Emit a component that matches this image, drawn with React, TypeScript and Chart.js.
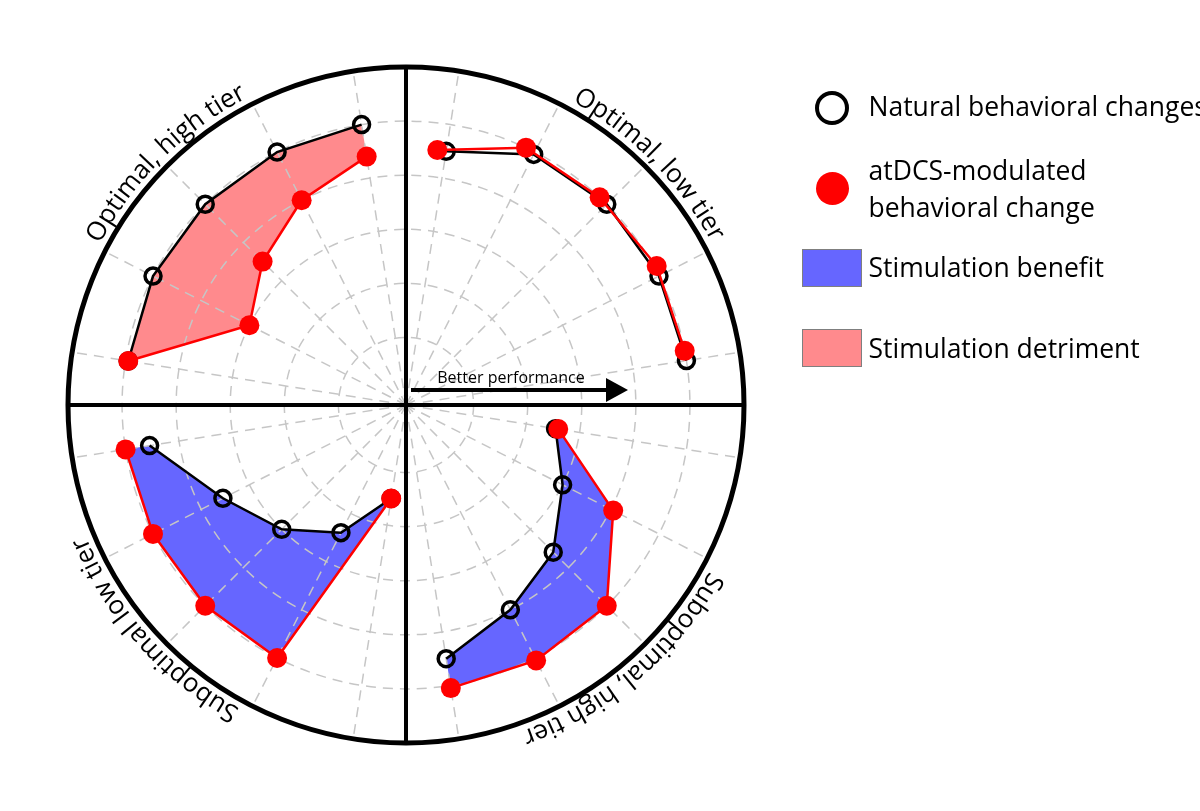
import React, { useEffect, useRef } from 'react';
import { Chart, registerables } from 'chart.js';

Chart.register(...registerables);

// Quadrants, clockwise from the top-right
const quadrantLabels = ['Optimal, low tier', 'Suboptimal, high tier', 'Suboptimal low tier', 'Optimal, high tier'];
const spokesPerQuadrant = 5;
const gridValues = [1, 2, 3, 4, 5];

// Values per quadrant, ordered clockwise
const naturalOptimalLow = [4.5, 4.95, 5, 5, 5];
const atdcsOptimalLow = [4.5, 5, 5, 5.05, 5];
const naturalSuboptimalHigh = [2.55, 3, 3.6, 4, 4.5];
const atdcsSuboptimalHigh = [2.6, 4.05, 5, 5.05, 5.05];
const naturalSuboptimalLow = [1.5, 2.4, 3, 3.55, 4.55];
const atdcsSuboptimalLow = [1.5, 5, 5, 5, 5];
const naturalOptimalHigh = [4.95, 5, 5, 5, 5];
const atdcsOptimalHigh = [4.95, 3, 3.5, 4, 4.4];

const arrowLabel = 'Better performance';
const legendNatural = 'Natural behavioral changes';
const legendAtdcs = ['atDCS-modulated', 'behavioral change'];
const legendBenefit = 'Stimulation benefit';
const legendDetriment = 'Stimulation detriment';

const naturalByQuadrant = [naturalOptimalLow, naturalSuboptimalHigh, naturalSuboptimalLow, naturalOptimalHigh];
const atdcsByQuadrant = [atdcsOptimalLow, atdcsSuboptimalHigh, atdcsSuboptimalLow, atdcsOptimalHigh];

const spokeLabels = quadrantLabels.flatMap((q) =>
  Array.from({ length: spokesPerQuadrant }, (_, i) => `${q} ${i + 1}`)
);

const FONT = '"Open Sans", sans-serif';
const GRID = '#c6c6c6';
const BENEFIT = 'rgb(102,102,255)';
const DETRIMENT = 'rgb(255,138,141)';

function pad(q: number, values: number[]) {
  const out: (number | null)[] = spokeLabels.map(() => null);
  values.forEach((v, i) => {
    out[q * spokesPerQuadrant + i] = v;
  });
  return out;
}

function effect(q: number) {
  const diff = atdcsByQuadrant[q].reduce((a, b) => a + b, 0) - naturalByQuadrant[q].reduce((a, b) => a + b, 0);
  if (diff > 0.5) return BENEFIT;
  if (diff < -0.5) return DETRIMENT;
  return null;
}

const nQ = quadrantLabels.length;

const atdcsDatasets = quadrantLabels.map((q, i) => {
  const color = effect(i);
  return {
    label: 'atDCS ' + q,
    data: pad(i, atdcsByQuadrant[i]),
    // overlapping series are drawn on a slightly rotated axis so both stay visible
    rAxisID: color ? 'r' : 'rShift',
    borderColor: '#ff0000',
    borderWidth: 2.5,
    backgroundColor: color || 'rgba(0,0,0,0)',
    fill: color ? nQ + i : false,
    pointRadius: 10,
    pointBorderWidth: 0,
    pointBackgroundColor: '#ff0000',
    pointBorderColor: '#ff0000',
    spanGaps: false,
  };
});

const naturalDatasets = quadrantLabels.map((q, i) => ({
  label: 'Natural ' + q,
  data: pad(i, naturalByQuadrant[i]),
  rAxisID: 'r',
  borderColor: '#000000',
  borderWidth: 2.5,
  backgroundColor: 'rgba(0,0,0,0)',
  fill: false,
  pointRadius: 8,
  pointBorderWidth: 3.5,
  pointBackgroundColor: 'rgba(0,0,0,0)',
  pointBorderColor: '#000000',
  spanGaps: false,
}));

const labelCenterDeg = [315.3, 49.6, 138.2, 225.2];

const framePlugin = {
  id: 'frame',
  beforeDatasetsDraw(chart: any) {
    const s = chart.scales.r;
    const ctx = chart.ctx;
    const x = s.xCenter;
    const y = s.yCenter;
    const R = s.drawingArea;
    ctx.save();
    ctx.strokeStyle = '#000';
    ctx.lineWidth = 4;
    ctx.beginPath();
    ctx.moveTo(x - R, y);
    ctx.lineTo(x + R, y);
    ctx.moveTo(x, y - R);
    ctx.lineTo(x, y + R);
    ctx.stroke();
    ctx.lineWidth = 5;
    ctx.beginPath();
    ctx.arc(x, y, R, 0, Math.PI * 2);
    ctx.stroke();
    ctx.restore();
  },
  afterDraw(chart: any) {
    const s = chart.scales.r;
    const ctx = chart.ctx;
    const x = s.xCenter;
    const y = s.yCenter;
    const R = s.drawingArea;
    ctx.save();
    // curved quadrant labels
    const rText = R + 8;
    ctx.font = `26px ${FONT}`;
    ctx.fillStyle = '#000';
    ctx.textBaseline = 'alphabetic';
    ctx.textAlign = 'left';
    quadrantLabels.forEach((label, qi) => {
      const total = ctx.measureText(label).width;
      let a = (labelCenterDeg[qi] * Math.PI) / 180 - total / 2 / rText;
      for (const ch of label) {
        const w = ctx.measureText(ch).width;
        const ac = a + w / 2 / rText;
        ctx.save();
        ctx.translate(x + rText * Math.cos(ac), y + rText * Math.sin(ac));
        ctx.rotate(ac + Math.PI / 2);
        ctx.fillText(ch, -w / 2, 0);
        ctx.restore();
        a += w / rText;
      }
    });
    // arrow
    const ay = y - 15;
    ctx.strokeStyle = '#000';
    ctx.lineWidth = 4;
    ctx.beginPath();
    ctx.moveTo(x + 5, ay);
    ctx.lineTo(x + 202, ay);
    ctx.stroke();
    ctx.beginPath();
    ctx.moveTo(x + 200, ay - 12);
    ctx.lineTo(x + 222, ay);
    ctx.lineTo(x + 200, ay + 12);
    ctx.closePath();
    ctx.fill();
    ctx.font = `16px ${FONT}`;
    ctx.textAlign = 'center';
    ctx.fillText(arrowLabel, x + 105, ay - 7);
    ctx.restore();
  },
};

const textStyle: React.CSSProperties = {
  position: 'absolute',
  fontFamily: FONT,
  fontSize: 26.5,
  lineHeight: 1,
  color: '#000',
  whiteSpace: 'nowrap',
  margin: 0,
};

export default function App() {
  const canvasRef = useRef<HTMLCanvasElement>(null);

  useEffect(() => {
    const canvas = canvasRef.current;
    if (!canvas) return;
    const chart = new Chart(canvas, {
      type: 'radar',
      data: {
        labels: spokeLabels,
        datasets: [...atdcsDatasets, ...naturalDatasets] as any,
      },
      options: {
        responsive: false,
        animation: false,
        events: [],
        layout: { padding: { left: 68, top: 67, right: 456, bottom: 68 } },
        plugins: {
          legend: { display: false },
          tooltip: { enabled: false },
          filler: { drawTime: 'beforeDraw' },
        },
        scales: {
          r: {
            type: 'radialLinear',
            min: -0.25,
            max: 6,
            startAngle: 9,
            afterBuildTicks: (scale: any) => {
              scale.ticks = gridValues.map((v) => ({ value: v }));
            },
            ticks: { display: false },
            pointLabels: { display: false },
            grid: { circular: true, color: GRID, lineWidth: 1.5 },
            border: { dash: [10, 7] },
            angleLines: { display: true, color: GRID, lineWidth: 1.5, borderDash: [10, 7] },
          },
          rShift: {
            type: 'radialLinear',
            axis: 'r',
            display: false,
            min: -0.25,
            max: 6,
            startAngle: 7,
            ticks: { display: false },
            pointLabels: { display: false },
          },
        } as any,
      },
      plugins: [framePlugin],
    });
    return () => chart.destroy();
  }, []);

  return (
    <div style={{ position: 'absolute', left: 0, top: 0, width: 1200, height: 811, overflow: 'hidden', background: '#fff' }}>
      <canvas ref={canvasRef} width={1200} height={811} style={{ position: 'absolute', left: 0, top: 0, width: 1200, height: 811 }} />
      <div style={{ position: 'absolute', left: 815, top: 91, width: 34, height: 34, boxSizing: 'border-box', border: '4.5px solid #000', borderRadius: '50%' }} />
      <div style={{ ...textStyle, left: 868.5, top: 92.5 }}>{legendNatural}</div>
      <div style={{ position: 'absolute', left: 815.5, top: 171.5, width: 33, height: 33, borderRadius: '50%', background: '#ff0000' }} />
      <div style={{ ...textStyle, left: 868.5, top: 156.5 }}>{legendAtdcs[0]}</div>
      <div style={{ ...textStyle, left: 868.5, top: 193.5 }}>{legendAtdcs[1]}</div>
      <div style={{ position: 'absolute', left: 802, top: 249, width: 60, height: 38, boxSizing: 'border-box', border: '1px solid #7f7f7f', background: BENEFIT }} />
      <div style={{ ...textStyle, left: 868.5, top: 253.5 }}>{legendBenefit}</div>
      <div style={{ position: 'absolute', left: 802, top: 329, width: 60, height: 38, boxSizing: 'border-box', border: '1px solid #7f7f7f', background: DETRIMENT }} />
      <div style={{ ...textStyle, left: 868.5, top: 334.5 }}>{legendDetriment}</div>
    </div>
  );
}
